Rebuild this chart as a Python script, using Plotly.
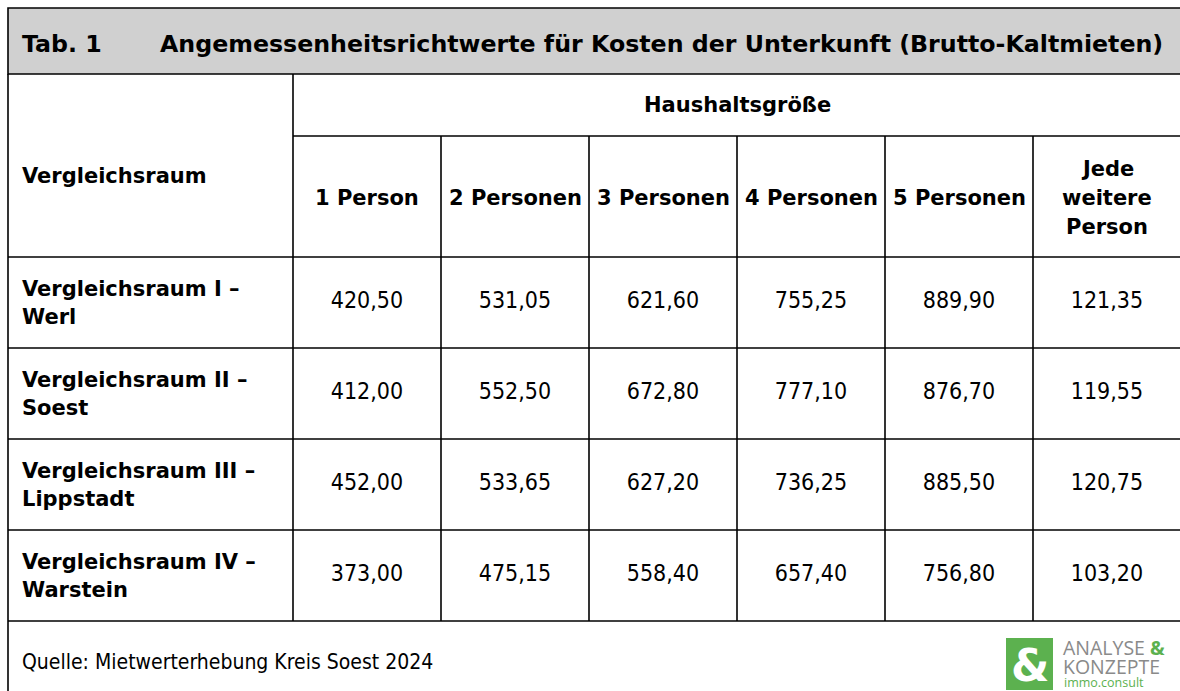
import plotly.graph_objects as go

# --- data ---
titel_nr = "Tab. 1"
titel = "Angemessenheitsrichtwerte für Kosten der Unterkunft (Brutto-Kaltmieten)"
spalten = ["1 Person", "2 Personen", "3 Personen", "4 Personen", "5 Personen",
           ["Jede", "weitere", "Person"]]
raeume = ["Vergleichsraum I –", "Vergleichsraum II –", "Vergleichsraum III –", "Vergleichsraum IV –"]
orte = ["Werl", "Soest", "Lippstadt", "Warstein"]
p1 = [420.50, 412.00, 452.00, 373.00]
p2 = [531.05, 552.50, 533.65, 475.15]
p3 = [621.60, 672.80, 627.20, 558.40]
p4 = [755.25, 777.10, 736.25, 657.40]
p5 = [889.90, 876.70, 885.50, 756.80]
jede = [121.35, 119.55, 120.75, 103.20]
quelle = "Quelle: Mietwerterhebung Kreis Soest 2024"

W, H = 1180, 691
FONT = "DejaVu Sans, Tahoma, sans-serif"
FONT_REG = "DejaVu Sans Condensed, Tahoma, DejaVu Sans, sans-serif"
LOGO = "Open Sans, sans-serif"
GREEN = "#5cb14f"
LINE = dict(color="black", width=1.6)

x_left, x_lab = 8, 293
col_w = 148
row_top = [257, 348, 439, 530]
row_h = 91
y_top, y_head, y_sub, y_body, y_end = 8, 74, 136, 257, 621

fig = go.Figure()

shapes = []
# gray title band
shapes.append(dict(type="rect", x0=x_left, x1=W + 5, y0=y_top, y1=y_head,
                   fillcolor="#d0d0d0", line=LINE, layer="below"))
# horizontal lines
for y in [y_body] + [r + row_h for r in row_top]:
    shapes.append(dict(type="line", x0=x_left, x1=W + 5, y0=y, y1=y, line=LINE))
shapes.append(dict(type="line", x0=x_lab, x1=W + 5, y0=y_sub, y1=y_sub, line=LINE))
# left border
shapes.append(dict(type="line", x0=x_left, x1=x_left, y0=y_head, y1=H + 5, line=LINE))
# column lines
shapes.append(dict(type="line", x0=x_lab, x1=x_lab, y0=y_head, y1=y_end, line=LINE))
for i in range(1, 6):
    x = x_lab + i * col_w
    shapes.append(dict(type="line", x0=x, x1=x, y0=y_sub, y1=y_end, line=LINE))

ann = []
ann.append(dict(x=20, y=44, text="<b>" + titel_nr + "</b>", xanchor="left",
                font=dict(size=23.7)))
ann.append(dict(x=158, y=44, text="<b>" + titel + "</b>", xanchor="left",
                font=dict(size=23.7)))
ann.append(dict(x=20, y=176, text="<b>Vergleichsraum</b>", xanchor="left"))
ann.append(dict(x=x_lab + 3 * col_w, y=105, text="<b>Haushaltsgröße</b>"))
for i, s in enumerate(spalten):
    cx = x_lab + (i + 0.5) * col_w
    if isinstance(s, list):
        for k, t in enumerate(s):
            ann.append(dict(x=cx, y=169 + 29 * k, text="<b>" + t + "</b>"))
    else:
        ann.append(dict(x=cx, y=198, text="<b>" + s + "</b>"))
for r, (a, b) in enumerate(zip(raeume, orte)):
    cy = row_top[r] + row_h / 2
    ann.append(dict(x=20, y=cy - 14, text="<b>" + a + "</b>", xanchor="left"))
    ann.append(dict(x=20, y=cy + 14, text="<b>" + b + "</b>", xanchor="left"))
ann.append(dict(x=20, y=662, text=quelle, xanchor="left",
                font=dict(size=21, family=FONT_REG)))

# logo
shapes.append(dict(type="rect", x0=1006, x1=1053, y0=638, y1=690,
                   fillcolor=GREEN, line=dict(width=0), layer="above"))
ann.append(dict(x=1029.5, y=665, text="<b>&</b>", font=dict(size=44, color="white",
                family="Arial Black, DejaVu Sans, sans-serif")))
ann.append(dict(x=1061, y=647, text="ANALYSE <span style='color:%s'><b>&</b></span>" % GREEN,
                xanchor="left", font=dict(size=19.5, color="#8a8a8a", family=LOGO)))
ann.append(dict(x=1061, y=666, text="KONZEPTE", xanchor="left",
                font=dict(size=19.5, color="#8a8a8a", family=LOGO)))
ann.append(dict(x=1062, y=682.5, text="immo.consult", xanchor="left",
                font=dict(size=12.5, color=GREEN, family=LOGO)))

# values as text marks
werte = [p1, p2, p3, p4, p5, jede]
for i, col in enumerate(werte):
    fig.add_trace(go.Scatter(
        x=[x_lab + (i + 0.5) * col_w] * len(col),
        y=[r + row_h / 2 for r in row_top],
        mode="text",
        text=[f"{v:.2f}".replace(".", ",") for v in col],
        textposition="middle center",
        textfont=dict(size=23, color="black", family=FONT_REG),
        hoverinfo="skip",
        showlegend=False,
    ))

for a in ann:
    a.setdefault("showarrow", False)
    a.setdefault("xref", "x")
    a.setdefault("yref", "y")
    a.setdefault("font", dict(size=21))
    a["font"].setdefault("family", FONT)
    a["font"].setdefault("color", "black")

fig.update_layout(
    width=W, height=H,
    margin=dict(l=0, r=0, t=0, b=0),
    paper_bgcolor="white", plot_bgcolor="white",
    shapes=shapes, annotations=ann,
    xaxis=dict(range=[0, W], visible=False, fixedrange=True),
    yaxis=dict(range=[H, 0], visible=False, fixedrange=True),
    font=dict(family=FONT),
)

# page has a default body margin; drop it so the figure fills the window
fig.write_html("out.html", config={"displayModeBar": False},
               post_script="document.body.style.margin='0';document.body.style.overflow='hidden';")
